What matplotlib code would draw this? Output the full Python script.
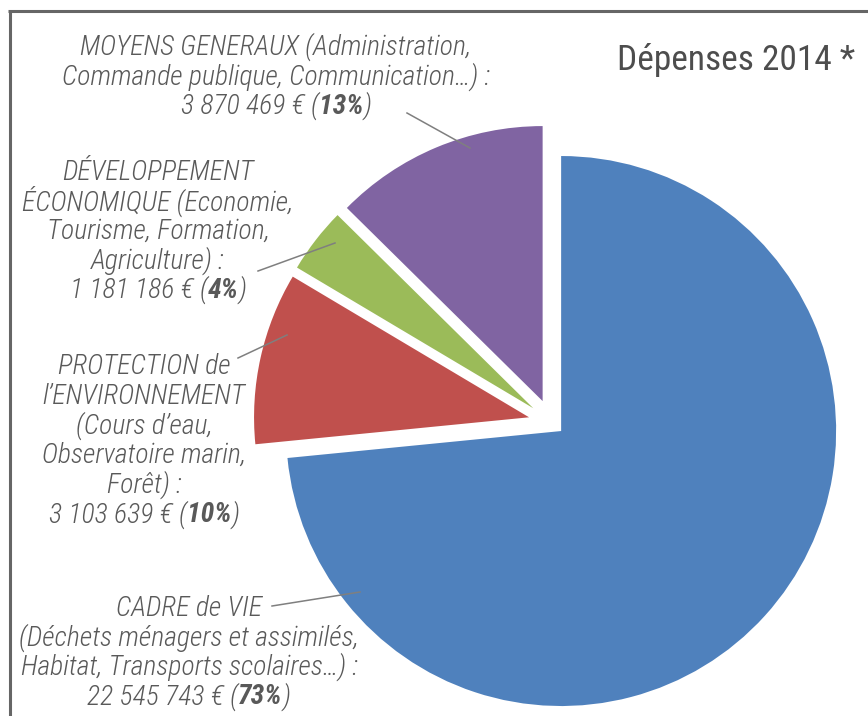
import matplotlib
matplotlib.use("Agg")
import matplotlib.pyplot as plt
from matplotlib import font_manager as fm

# data
amounts = [22545743, 3103639, 1181186, 3870469]
amount_labels = ["22 545 743 €", "3 103 639 €", "1 181 186 €", "3 870 469 €"]
pct_labels = ["73%", "10%", "4%", "13%"]
label_lines = [
    ["CADRE de VIE", "(Déchets ménagers et assimilés,", "Habitat, Transports scolaires…) :"],
    ["PROTECTION de", "l’ENVIRONNEMENT", "(Cours d’eau,", "Observatoire marin,", "Forêt) :"],
    ["DÉVELOPPEMENT", "ÉCONOMIQUE (Economie,", "Tourisme, Formation,", "Agriculture) :"],
    ["MOYENS GENERAUX (Administration,", "Commande publique, Communication…) :"],
]
colors = ["#4F81BD", "#C0504D", "#9BBB59", "#8064A2"]
title = "Dépenses 2014 *"


def pick_font(names):
    for name in names:
        try:
            fm.findfont(fm.FontProperties(family=name), fallback_to_default=False)
            return name
        except ValueError:
            pass
    return "DejaVu Sans"


font = pick_font(["Roboto Condensed", "Liberation Sans Narrow", "DejaVu Sans Condensed", "Liberation Sans"])
text_color = "#595959"

W, H = 868, 716
fig = plt.figure(figsize=(W / 100, H / 100), dpi=100)
ax = fig.add_axes([0, 0, 1, 1])

ax.pie(amounts, colors=colors, startangle=90, counterclock=False,
       explode=[13, 23, 23, 23], radius=275, center=(551.5, H - 422.3),
       wedgeprops=dict(linewidth=0))

ax.set_xlim(0, W)
ax.set_ylim(0, H)
ax.set_aspect("equal")
ax.axis("off")

# frame lines (top and left)
ax.plot([8, W], [H - 11, H - 11], color="#666666", lw=2.2, solid_capstyle="butt")
ax.plot([9.5, 9.5], [H - 11, 0], color="#666666", lw=2.2, solid_capstyle="butt")

ax.text(855, H - 60, title, ha="right", va="center", fontsize=25.5,
        family=font, color="#4d4d4d")

fig.canvas.draw()
renderer = fig.canvas.get_renderer()

size = 20
spacing = 29.5
# centre x and first line y (image coords) for each label block
blocks = [(189, 608), (144, 367), (158, 172), (276, 47)]

for lines, amt, pct, (cx, y0) in zip(label_lines, amount_labels, pct_labels, blocks):
    for i, line in enumerate(lines):
        ax.text(cx, H - (y0 + i * spacing), line, ha="center", va="center",
                fontsize=size, style="italic", weight="light", family=font,
                color=text_color)
    y = H - (y0 + len(lines) * spacing)
    parts = [(amt + " (", "light"), (pct, "bold"), (")", "light")]
    objs = []
    for s, wgt in parts:
        t = ax.text(0, y, s, ha="left", va="center", fontsize=size, style="italic",
                    weight=wgt, family=font, color=text_color)
        objs.append(t)
    widths = [t.get_window_extent(renderer).width for t in objs]
    x = cx - sum(widths) / 2
    for t, w in zip(objs, widths):
        t.set_x(x)
        x += w

# leader lines
leaders = [((272, 606), (360, 592)), ((238, 358), (287, 335)),
           ((258, 271), (335, 243)), ((407, 113), (470, 148))]
for (x1, y1), (x2, y2) in leaders:
    ax.plot([x1, x2], [H - y1, H - y2], color="#7f7f7f", lw=1.1)

fig.savefig("out.png", dpi=100)
